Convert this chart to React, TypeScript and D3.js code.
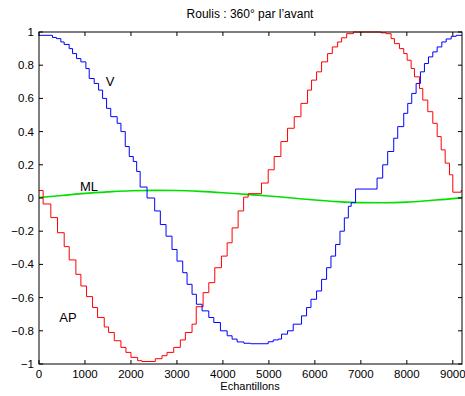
import React from "react";
import * as d3 from "d3";

const xTicks = [0, 1000, 2000, 3000, 4000, 5000, 6000, 7000, 8000, 9000];
const yTicks = [-1, -0.8, -0.6, -0.4, -0.2, 0, 0.2, 0.4, 0.6, 0.8, 1];

const apX = [0, 90, 257, 403, 548, 657, 802, 911, 1034, 1165, 1274, 1419, 1513, 1637, 1782, 1891, 2000, 2145, 2240, 2530, 2675, 2784, 2930, 3074, 3183, 3329, 3420, 3569, 3693, 3823, 3968, 4092, 4200, 4331, 4450, 4549, 4839, 4985, 5115, 5261, 5406, 5551, 5697, 5841, 5928, 6037, 6146, 6277, 6379, 6495, 6582, 6691, 6837, 7440, 7549, 7658, 7730, 7839, 7933, 8007, 8094, 8166, 8275, 8347, 8456, 8565, 8660, 8747, 8834, 8928, 9000, 9180, 9200];
const apV = [0.045, -0.036, -0.118, -0.209, -0.293, -0.373, -0.46, -0.53, -0.594, -0.66, -0.72, -0.777, -0.81, -0.86, -0.9, -0.93, -0.96, -0.98, -0.985, -0.968, -0.95, -0.93, -0.9, -0.855, -0.81, -0.76, -0.655, -0.57, -0.51, -0.42, -0.35, -0.27, -0.18, -0.078, 0.005, 0.026, 0.09, 0.17, 0.25, 0.34, 0.42, 0.49, 0.57, 0.65, 0.71, 0.76, 0.82, 0.87, 0.91, 0.94, 0.965, 0.99, 1.0, 0.995, 0.99, 0.96, 0.93, 0.9, 0.87, 0.83, 0.78, 0.73, 0.66, 0.59, 0.52, 0.45, 0.37, 0.29, 0.21, 0.14, 0.035, 0.045, 0.045];

const vX = [0, 294, 381, 475, 547, 656, 730, 817, 911, 1020, 1092, 1200, 1296, 1383, 1470, 1560, 1700, 1782, 1876, 1963, 2050, 2124, 2200, 2350, 2516, 2639, 2763, 2893, 3002, 3126, 3220, 3329, 3423, 3547, 3693, 3802, 3946, 4092, 4200, 4309, 4455, 4600, 4985, 5094, 5203, 5275, 5406, 5529, 5710, 5819, 5915, 6037, 6146, 6255, 6350, 6451, 6546, 6641, 6728, 6790, 6885, 7353, 7475, 7584, 7715, 7802, 7933, 8020, 8107, 8202, 8296, 8383, 8471, 8565, 8660, 8761, 8856, 8965, 9074, 9200];
const vV = [0.98, 0.967, 0.96, 0.94, 0.925, 0.9, 0.87, 0.84, 0.82, 0.78, 0.72, 0.69, 0.65, 0.6, 0.54, 0.49, 0.45, 0.4, 0.31, 0.25, 0.22, 0.16, 0.066, 0.0, -0.078, -0.16, -0.23, -0.31, -0.38, -0.45, -0.52, -0.58, -0.64, -0.68, -0.72, -0.75, -0.8, -0.83, -0.85, -0.867, -0.875, -0.878, -0.866, -0.855, -0.85, -0.82, -0.8, -0.76, -0.71, -0.66, -0.61, -0.56, -0.49, -0.42, -0.35, -0.28, -0.2, -0.12, -0.05, -0.028, 0.054, 0.12, 0.2, 0.28, 0.36, 0.43, 0.51, 0.57, 0.63, 0.69, 0.76, 0.81, 0.85, 0.88, 0.91, 0.94, 0.958, 0.974, 0.98, 0.98];

const mlX = [0, 500, 1000, 1500, 2000, 2500, 3000, 3500, 4000, 4500, 5000, 5500, 6000, 6500, 7000, 7500, 8000, 8500, 9000, 9200];
const mlV = [0.003, 0.015, 0.028, 0.037, 0.044, 0.046, 0.045, 0.04, 0.032, 0.022, 0.012, 0.0, -0.012, -0.022, -0.028, -0.029, -0.025, -0.015, -0.004, 0.002];

const W = 465;
const H = 396;
const left = 39;
const right = 462;
const top = 32;
const bottom = 364;

export default function App() {
  const x = d3.scaleLinear().domain([0, 9200]).range([left, right]);
  const y = d3.scaleLinear().domain([-1, 1]).range([bottom, top]);
  const stepLine = d3
    .line<number>()
    .x((_, i) => 0)
    .curve(d3.curveStepAfter);
  const mk = (xs: number[], vs: number[], curve: d3.CurveFactory) =>
    d3
      .line<number>()
      .x((d, i) => x(xs[i]))
      .y((d) => y(d))
      .curve(curve)(vs) || "";
  void stepLine;
  const fmt = (v: number) => {
    const s = Math.abs(v) < 1e-9 ? "0" : String(+v.toFixed(1));
    return s.replace("-", "\u2212");
  };
  const font = "Liberation Sans, Arial, Helvetica, sans-serif";
  return (
    <svg
      width={W}
      height={H}
      style={{ position: "absolute", left: 0, top: 0 }}
      fontFamily={font}
    >
      <rect x={0} y={0} width={W} height={H} fill="#fff" />
      <defs>
        <clipPath id="plot">
          <rect x={left} y={top - 2} width={right - left} height={bottom - top + 4} />
        </clipPath>
      </defs>
      <g clipPath="url(#plot)" fill="none">
        <path d={mk(mlX, mlV, d3.curveMonotoneX)} stroke="#00e000" strokeWidth={1.6} />
        <path d={mk(apX, apV, d3.curveStepAfter)} stroke="#ff0000" strokeWidth={1} />
        <path d={mk(vX, vV, d3.curveStepAfter)} stroke="#0000ff" strokeWidth={1} />
      </g>
      <rect
        x={left}
        y={top}
        width={right - left}
        height={bottom - top}
        fill="none"
        stroke="#000"
        strokeWidth={1}
      />
      {xTicks.map((t) => (
        <g key={"x" + t}>
          <line x1={x(t)} x2={x(t)} y1={bottom} y2={bottom - 4} stroke="#000" />
          <line x1={x(t)} x2={x(t)} y1={top} y2={top + 4} stroke="#000" />
          <text x={x(t)} y={bottom + 14} textAnchor="middle" fontSize={11.5}>
            {String(t)}
          </text>
        </g>
      ))}
      {yTicks.map((t) => (
        <g key={"y" + t}>
          <line x1={left} x2={left + 4} y1={y(t)} y2={y(t)} stroke="#000" />
          <line x1={right} x2={right - 4} y1={y(t)} y2={y(t)} stroke="#000" />
          <text x={left - 5} y={y(t) + 4} textAnchor="end" fontSize={11.5}>
            {fmt(t)}
          </text>
        </g>
      ))}
      <text x={250} y={18} textAnchor="middle" fontSize={12}>
        Roulis : 360° par l’avant
      </text>
      <text x={250} y={390} textAnchor="middle" fontSize={11}>
        Echantillons
      </text>
      <text x={110} y={86} textAnchor="middle" fontSize={13}>V</text>
      <text x={89} y={191} textAnchor="middle" fontSize={13}>ML</text>
      <text x={68} y={322} textAnchor="middle" fontSize={13}>AP</text>
    </svg>
  );
}
